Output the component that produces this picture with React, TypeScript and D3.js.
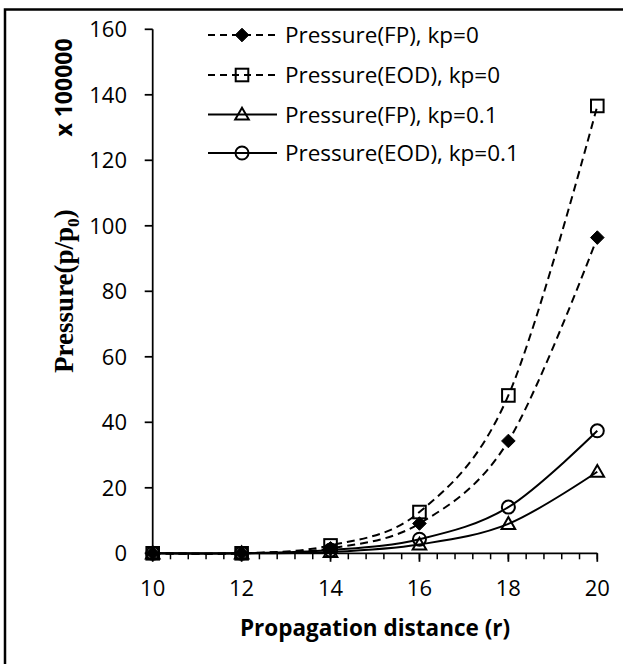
import React from 'react';
import * as d3 from 'd3';

const distances = [10, 12, 14, 16, 18, 20];
const fpKp0 = [0, 0, 1.5, 9.1, 34.3, 96.4];
const eodKp0 = [0, 0, 2.4, 12.6, 48.2, 136.6];
const fpKp01 = [0, 0, 0.4, 2.7, 9.0, 24.9];
const eodKp01 = [0, 0, 1.0, 4.3, 14.1, 37.4];
const seriesNames = [
  'Pressure(FP), kp=0',
  'Pressure(EOD), kp=0',
  'Pressure(FP), kp=0.1',
  'Pressure(EOD), kp=0.1',
];
const yTicks = [0, 20, 40, 60, 80, 100, 120, 140, 160];
const xTicks = [10, 12, 14, 16, 18, 20];

const W = 623;
const H = 664;
const SANS = '"Open Sans", Lato, sans-serif';
const SERIF = '"Liberation Serif", "Times New Roman", serif';

type Kind = 'diamond' | 'square' | 'triangle' | 'circle';

const seriesList: { name: string; values: number[]; dashed: boolean; marker: Kind }[] = [
  { name: seriesNames[0], values: fpKp0, dashed: true, marker: 'diamond' },
  { name: seriesNames[1], values: eodKp0, dashed: true, marker: 'square' },
  { name: seriesNames[2], values: fpKp01, dashed: false, marker: 'triangle' },
  { name: seriesNames[3], values: eodKp01, dashed: false, marker: 'circle' },
];

function Marker({ kind, cx, cy }: { kind: Kind; cx: number; cy: number }) {
  if (kind === 'diamond') {
    const s = 6.8;
    return (
      <path
        d={`M${cx},${cy - s}L${cx + s},${cy}L${cx},${cy + s}L${cx - s},${cy}Z`}
        fill="#000"
        stroke="#000"
        strokeWidth={1}
      />
    );
  }
  if (kind === 'square') {
    const s = 6.3;
    return <rect x={cx - s} y={cy - s} width={2 * s} height={2 * s} fill="none" stroke="#000" strokeWidth={2} />;
  }
  if (kind === 'triangle') {
    const s = 6.8;
    return (
      <path
        d={`M${cx},${cy - s}L${cx + s},${cy + s * 0.75}L${cx - s},${cy + s * 0.75}Z`}
        fill="none"
        stroke="#000"
        strokeWidth={2}
      />
    );
  }
  return <circle cx={cx} cy={cy} r={6.5} fill="none" stroke="#000" strokeWidth={2} />;
}

export default function App() {
  const x = d3.scaleLinear().domain([10, 20]).range([152.7, 597.3]);
  const y = d3.scaleLinear().domain([0, 160]).range([553.3, 29.3]);
  const line = d3
    .line<number>()
    .x((_, i) => x(distances[i]))
    .y((v) => y(v))
    .curve(d3.curveCatmullRom.alpha(0));

  const minorTicks = d3.range(10, 20.001, 0.4);
  const legendY = [35, 75, 114.5, 153];

  return (
    <svg
      width={W}
      height={H}
      style={{ position: 'absolute', left: 0, top: 0, background: '#fff' }}
    >
      <rect x={0} y={0} width={W} height={H} fill="#fff" />
      {/* outer frame (cropped on right/bottom) */}
      <path d={`M5,${H + 5}L5,9.5L${W + 5},9.5`} fill="none" stroke="#000" strokeWidth={2.5} />

      {/* y axis */}
      <line x1={x(10)} x2={x(10)} y1={y(0)} y2={y(160)} stroke="#000" strokeWidth={1.75} />
      {yTicks.map((t) => (
        <g key={'yt' + t}>
          <line x1={x(10) - 8} x2={x(10)} y1={y(t)} y2={y(t)} stroke="#000" strokeWidth={1.75} />
          <text
            x={127}
            y={y(t)}
            dy="0.36em"
            textAnchor="end"
            fontFamily={SANS}
            fontSize={22}
            fill="#000"
          >
            {t}
          </text>
        </g>
      ))}

      {/* x axis */}
      <line x1={x(10)} x2={x(20)} y1={y(0)} y2={y(0)} stroke="#000" strokeWidth={1.75} />
      {minorTicks.map((t, i) => (
        <line
          key={'mt' + i}
          x1={x(t)}
          x2={x(t)}
          y1={y(0)}
          y2={y(0) + 6}
          stroke="#000"
          strokeWidth={1.5}
        />
      ))}
      {xTicks.map((t) => (
        <g key={'xt' + t}>
          <line x1={x(t)} x2={x(t)} y1={y(0)} y2={y(0) + 8.5} stroke="#000" strokeWidth={1.75} />
          <text
            x={x(t)}
            y={588}
            dy="0.36em"
            textAnchor="middle"
            fontFamily={SANS}
            fontSize={22}
            fill="#000"
          >
            {t}
          </text>
        </g>
      ))}

      {/* series */}
      {seriesList.map((s) => (
        <g key={s.name}>
          <path
            d={line(s.values) || ''}
            fill="none"
            stroke="#000"
            strokeWidth={2}
            strokeDasharray={s.dashed ? '8,5' : undefined}
          />
          {s.values.map((v, i) => (
            <Marker key={i} kind={s.marker} cx={x(distances[i])} cy={y(v)} />
          ))}
        </g>
      ))}

      {/* legend */}
      {seriesList.map((s, i) => (
        <g key={'lg' + i}>
          <line
            x1={208}
            x2={277}
            y1={legendY[i]}
            y2={legendY[i]}
            stroke="#000"
            strokeWidth={2}
            strokeDasharray={s.dashed ? '7,5' : undefined}
          />
          <Marker kind={s.marker} cx={242} cy={legendY[i]} />
          <text
            x={285}
            y={legendY[i]}
            dy="0.36em"
            fontFamily={SANS}
            fontSize={22.5}
            fill="#000"
          >
            {s.name}
          </text>
        </g>
      ))}

      {/* axis titles */}
      <text
        x={375}
        y={636}
        textAnchor="middle"
        fontFamily={SANS}
        fontWeight="bold"
        fontSize={22.5}
        fill="#000"
      >
        Propagation distance (r)
      </text>
      <text
        transform="translate(73,291) rotate(-90)"
        textAnchor="middle"
        fontFamily={SERIF}
        fontWeight="bold"
        fontSize={27}
        fill="#000"
      >
        Pressure(p/p<tspan fontSize={17.5} dy={6}>0</tspan>
        <tspan dy={-6}>)</tspan>
      </text>
      <text
        transform="translate(72,87.5) rotate(-90)"
        textAnchor="middle"
        fontFamily={SANS}
        fontWeight="bold"
        fontSize={23}
        fill="#000"
      >
        x 100000
      </text>
    </svg>
  );
}
